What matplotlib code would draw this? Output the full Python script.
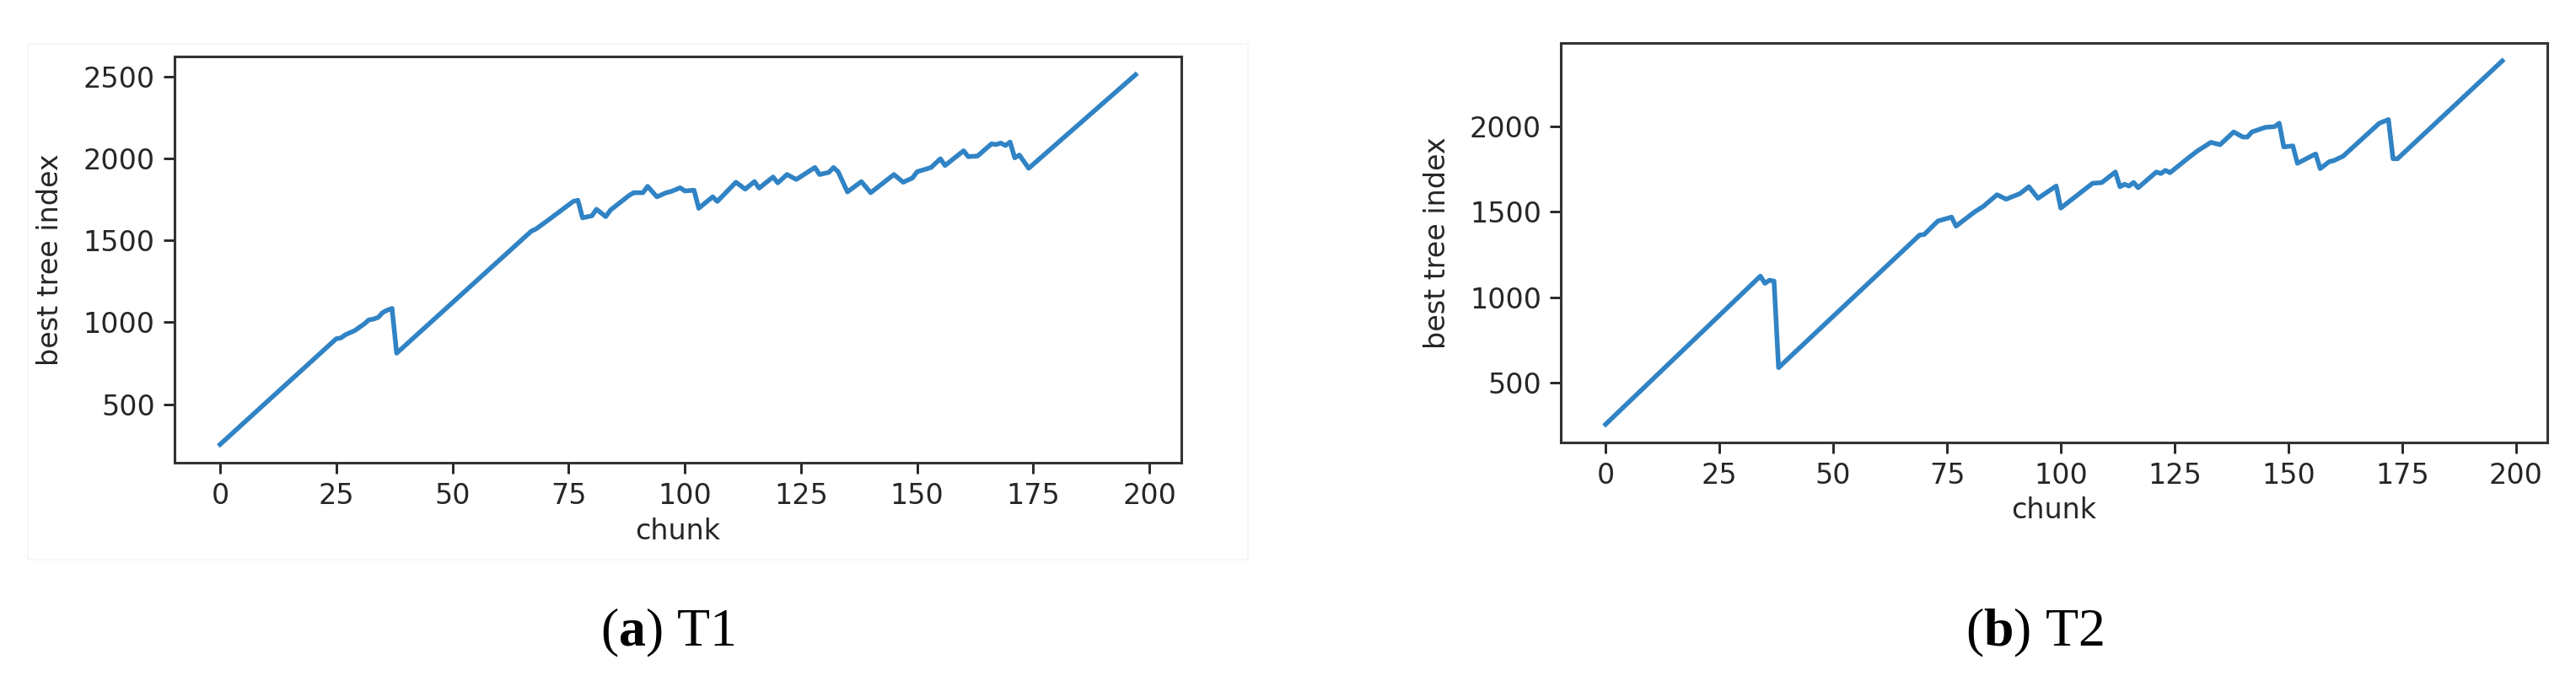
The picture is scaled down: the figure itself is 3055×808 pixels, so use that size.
"""Best tree index per chunk for two targets (T1, T2), side by side with captions."""
import matplotlib
matplotlib.use("Agg")
import matplotlib.pyplot as plt
from matplotlib.patches import Rectangle

# breakpoints (chunk, best tree index)
t1_chunk = [0, 25, 26, 27, 29, 31, 32, 33, 34, 35, 36, 37, 38, 67, 68, 71, 76, 77,
            78, 80, 81, 83, 84, 88, 89, 91, 92, 94, 96, 97, 99, 100, 102, 103, 106,
            107, 111, 113, 115, 116, 119, 120, 122, 124, 128, 129, 131, 132, 133,
            135, 138, 140, 145, 147, 149, 150, 153, 155, 156, 160, 161, 163, 166,
            167, 168, 169, 170, 171, 172, 174, 197]
t1_best = [255, 900, 905, 925, 950, 990, 1015, 1020, 1030, 1060, 1075, 1085, 812,
           1557, 1570, 1632, 1738, 1745, 1638, 1650, 1690, 1645, 1685, 1774, 1791,
           1791, 1830, 1766, 1791, 1798, 1821, 1802, 1806, 1696, 1766, 1738, 1855,
           1813, 1859, 1819, 1887, 1851, 1902, 1872, 1945, 1902, 1915, 1945, 1919,
           1796, 1859, 1791, 1902, 1855, 1881, 1919, 1945, 1998, 1957, 2047, 2011,
           2015, 2089, 2085, 2094, 2079, 2100, 2004, 2021, 1940, 2511]

t2_chunk = [0, 34, 35, 36, 37, 38, 69, 70, 73, 75, 76, 77, 81, 83, 86, 88, 91, 93,
            95, 99, 100, 107, 109, 112, 113, 114, 115, 116, 117, 121, 122, 123, 124,
            128, 130, 133, 135, 138, 140, 141, 142, 145, 147, 148, 149, 151, 152,
            156, 157, 159, 160, 162, 170, 172, 173, 174, 197]
t2_best = [256, 1124, 1082, 1100, 1095, 588, 1365, 1368, 1447, 1462, 1470, 1417,
           1499, 1533, 1601, 1575, 1607, 1648, 1580, 1652, 1523, 1668, 1672, 1734,
           1648, 1662, 1652, 1673, 1642, 1734, 1725, 1744, 1730, 1816, 1857, 1908,
           1894, 1969, 1939, 1939, 1969, 1996, 2000, 2020, 1881, 1887, 1785, 1840,
           1754, 1795, 1801, 1826, 2020, 2041, 1812, 1812, 2385]

captions = ["a", "b"]
caption_names = ["T1", "T2"]

plt.rcParams["mathtext.fontset"] = "custom"
plt.rcParams["mathtext.rm"] = "Liberation Serif"
plt.rcParams["mathtext.bf"] = "Liberation Serif:bold"

LINE = "#3083c4"
FS = 24

fig = plt.figure(figsize=(30.55, 8.08), dpi=100)

# faint screenshot frame around the left panel
fig.patches.append(Rectangle((33 / 3055, 1 - 664 / 808), (1480 - 33) / 3055,
                             (664 - 52) / 808, transform=fig.transFigure,
                             fill=False, edgecolor="#f5f5f5", linewidth=1.2))

positions = [
    [206.7 / 3055, 1 - 549.3 / 808, (1401 - 206.7) / 3055, (549.3 - 66.7) / 808],
    [1851 / 3055, 1 - 525 / 808, (3020.7 - 1851) / 3055, (525 - 50.7) / 808],
]
series = [(t1_chunk, t1_best), (t2_chunk, t2_best)]
caption_x = [792 / 3055, 2413 / 3055]

for pos, (xs, ys), letter, name, cx in zip(positions, series, captions,
                                           caption_names, caption_x):
    ax = fig.add_axes(pos)
    ax.plot(xs, ys, color=LINE, linewidth=4)
    ax.set_xticks([0, 25, 50, 75, 100, 125, 150, 175, 200])
    ax.set_xlabel("chunk", fontsize=FS, color="#262626", labelpad=6)
    ax.set_ylabel("best tree index", fontsize=FS, color="#262626", labelpad=16)
    ax.tick_params(labelsize=FS, length=9.5, width=2.1, pad=7,
                   colors="#262626")
    for s in ax.spines.values():
        s.set_linewidth(2.2)
        s.set_color("#333333")
    fig.text(cx, 1 - 766 / 808, rf"($\mathbf{{{letter}}}$) {name}",
             fontsize=46, family="Liberation Serif", ha="center", va="baseline")

fig.savefig("out.png", dpi=100)
